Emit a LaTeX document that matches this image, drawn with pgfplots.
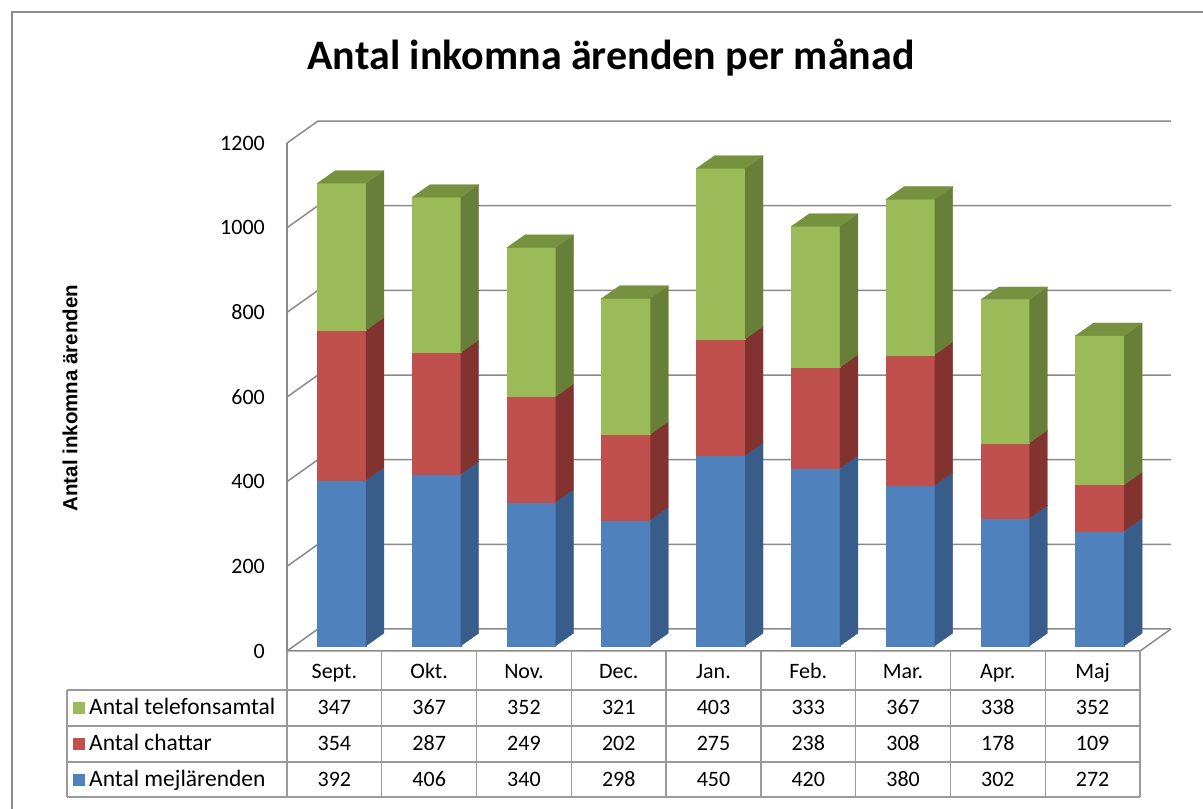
\documentclass[border=0pt]{standalone}
\usepackage{pgfplots}
\pgfplotsset{compat=1.18}
\usepackage{pgfplotstable}
\usepackage{fontspec}
\setmainfont{Carlito}
\newfontfamily\arialfont{Liberation Sans}

\definecolor{bluef}{HTML}{4F81BD}
\definecolor{blues}{HTML}{385D8A}
\definecolor{redf}{HTML}{C0504D}
\definecolor{reds}{HTML}{82322F}
\definecolor{greenf}{HTML}{9BBB59}
\definecolor{greens}{HTML}{677F38}
\definecolor{greent}{HTML}{77923F}
\definecolor{gridc}{HTML}{8A8A8A}
\definecolor{tabc}{HTML}{9A9A9A}
\definecolor{bordc}{HTML}{8C8C8C}

\pgfplotstableread{
i mej chat tel
0 392 354 347
1 406 287 367
2 340 249 352
3 298 202 321
4 450 275 403
5 420 238 333
6 380 308 367
7 302 178 338
8 272 109 352
}\data

\def\wdx{0.327}\def\wdy{52}
\def\bx{0.075}\def\by{12}
\def\hw{0.258}
\def\bdx{0.19}\def\bdy{30}

\tikzset{tab/.style={font=\fontsize{22}{22}\selectfont, text height=1.45ex, text depth=0.3ex, inner sep=0pt}}

\begin{document}
\begin{tikzpicture}[x=1pt,y=1pt]
\useasboundingbox (0,0) rectangle (1203,809);
\draw[bordc, line width=1.3pt] (12,-5) -- (12,797) -- (1210,797);
\node[font=\bfseries\fontsize{42}{42}\selectfont] at (611,751) {Antal inkomna ärenden per månad};
\node[rotate=90, font=\arialfont\bfseries\fontsize{20.5}{20.5}\selectfont] at (70,411) {Antal inkomna ärenden};

\begin{axis}[at={(287pt,158pt)}, anchor=south west,
  x=94.78pt, y=0.4233pt,
  xmin=-0.5, xmax=8.5, ymin=0, ymax=1200,
  axis x line=none, axis y line*=left,
  axis line style={gridc, line width=1.5pt},
  ytick={0,200,400,600,800,1000,1200},
  yticklabels={0,200,400,600,800,1000,1200},
  major tick length=0pt,
  yticklabel style={font=\fontsize{22}{22}\selectfont, anchor=east, inner sep=0pt, xshift=-22pt},
  clip=false]
% walls and gridlines
\pgfplotsinvokeforeach{0,200,400,600,800,1000,1200}{%
  \pgfmathsetmacro{\gy}{#1+\wdy}%
  \pgfmathsetmacro{\gx}{-0.5+\wdx}%
  \pgfmathsetmacro{\gxx}{8.5+\wdx}%
  \edef\cmd{\noexpand\addplot[gridc, line width=1.5pt] coordinates {(-0.5,#1) (\gx,\gy) (\gxx,\gy)};}\cmd
}
\pgfmathsetmacro{\fx}{8.5+\wdx}
\edef\cmd{\noexpand\addplot[gridc, line width=1.5pt] coordinates {(-0.5,0) (8.5,0) (\fx,\wdy)};}\cmd
% bars
\pgfplotsinvokeforeach{0,...,8}{%
  \pgfplotstablegetelem{#1}{mej}\of\data \pgfmathsetmacro{\vA}{\pgfplotsretval}%
  \pgfplotstablegetelem{#1}{chat}\of\data \pgfmathsetmacro{\vB}{\pgfplotsretval}%
  \pgfplotstablegetelem{#1}{tel}\of\data \pgfmathsetmacro{\vC}{\pgfplotsretval}%
  \pgfmathsetmacro{\yA}{\by}%
  \pgfmathsetmacro{\yB}{\by+\vA}%
  \pgfmathsetmacro{\yC}{\yB+\vB}%
  \pgfmathsetmacro{\yD}{\yC+\vC}%
  \pgfmathsetmacro{\sA}{\yA+\bdy}%
  \pgfmathsetmacro{\sB}{\yB+\bdy}%
  \pgfmathsetmacro{\sC}{\yC+\bdy}%
  \pgfmathsetmacro{\sD}{\yD+\bdy}%
  \pgfmathsetmacro{\xl}{#1+\bx-\hw}%
  \pgfmathsetmacro{\xr}{#1+\bx+\hw}%
  \pgfmathsetmacro{\xs}{\xr+\bdx}%
  \pgfmathsetmacro{\xt}{\xl+\bdx}%
  \edef\cmd{%
    \noexpand\addplot[fill=bluef, draw=bluef, line width=0.3pt] coordinates {(\xl,\yA) (\xr,\yA) (\xr,\yB) (\xl,\yB)};
    \noexpand\addplot[fill=blues, draw=blues, line width=0.3pt] coordinates {(\xr,\yA) (\xs,\sA) (\xs,\sB) (\xr,\yB)};
    \noexpand\addplot[fill=redf, draw=redf, line width=0.3pt] coordinates {(\xl,\yB) (\xr,\yB) (\xr,\yC) (\xl,\yC)};
    \noexpand\addplot[fill=reds, draw=reds, line width=0.3pt] coordinates {(\xr,\yB) (\xs,\sB) (\xs,\sC) (\xr,\yC)};
    \noexpand\addplot[fill=greenf, draw=greenf, line width=0.3pt] coordinates {(\xl,\yC) (\xr,\yC) (\xr,\yD) (\xl,\yD)};
    \noexpand\addplot[fill=greens, draw=greens, line width=0.3pt] coordinates {(\xr,\yC) (\xs,\sC) (\xs,\sD) (\xr,\yD)};
    \noexpand\addplot[fill=greent, draw=greent, line width=0.3pt] coordinates {(\xl,\yD) (\xr,\yD) (\xs,\sD) (\xt,\sD)};
  }\cmd
}
\end{axis}

% data table
\foreach \k in {0,...,9} {
  \pgfmathsetmacro{\cx}{287+94.78*\k}
  \draw[tabc, line width=1.3pt] (\cx,158) -- (\cx,12);
}
\foreach \yy in {119,83,47,12} {
  \draw[tabc, line width=1.3pt] (67,\yy) -- (1140,\yy);
}
\draw[tabc, line width=1.3pt] (67,119) -- (67,12);
\foreach \m [count=\k from 0] in {Sept.,Okt.,Nov.,Dec.,Jan.,Feb.,Mar.,Apr.,Maj} {
  \pgfmathsetmacro{\cx}{287+94.78*(\k+0.5)}
  \node[tab] at (\cx,133) {\m};
}
\foreach \k in {0,...,8} {
  \pgfmathsetmacro{\cx}{287+94.78*(\k+0.5)}
  \pgfplotstablegetelem{\k}{tel}\of\data
  \node[tab] at (\cx,97) {\pgfplotsretval};
  \pgfplotstablegetelem{\k}{chat}\of\data
  \node[tab] at (\cx,61) {\pgfplotsretval};
  \pgfplotstablegetelem{\k}{mej}\of\data
  \node[tab] at (\cx,25) {\pgfplotsretval};
}
\fill[greenf] (73,95) rectangle (85,107);
\fill[redf] (73,59) rectangle (85,71);
\fill[bluef] (73,23) rectangle (85,35);
\node[tab, anchor=west, font=\fontsize{23.5}{23.5}\selectfont] at (89,97) {Antal telefonsamtal};
\node[tab, anchor=west, font=\fontsize{23.5}{23.5}\selectfont] at (89,61) {Antal chattar};
\node[tab, anchor=west, font=\fontsize{23.5}{23.5}\selectfont] at (89,25) {Antal mejlärenden};
\end{tikzpicture}
\end{document}
